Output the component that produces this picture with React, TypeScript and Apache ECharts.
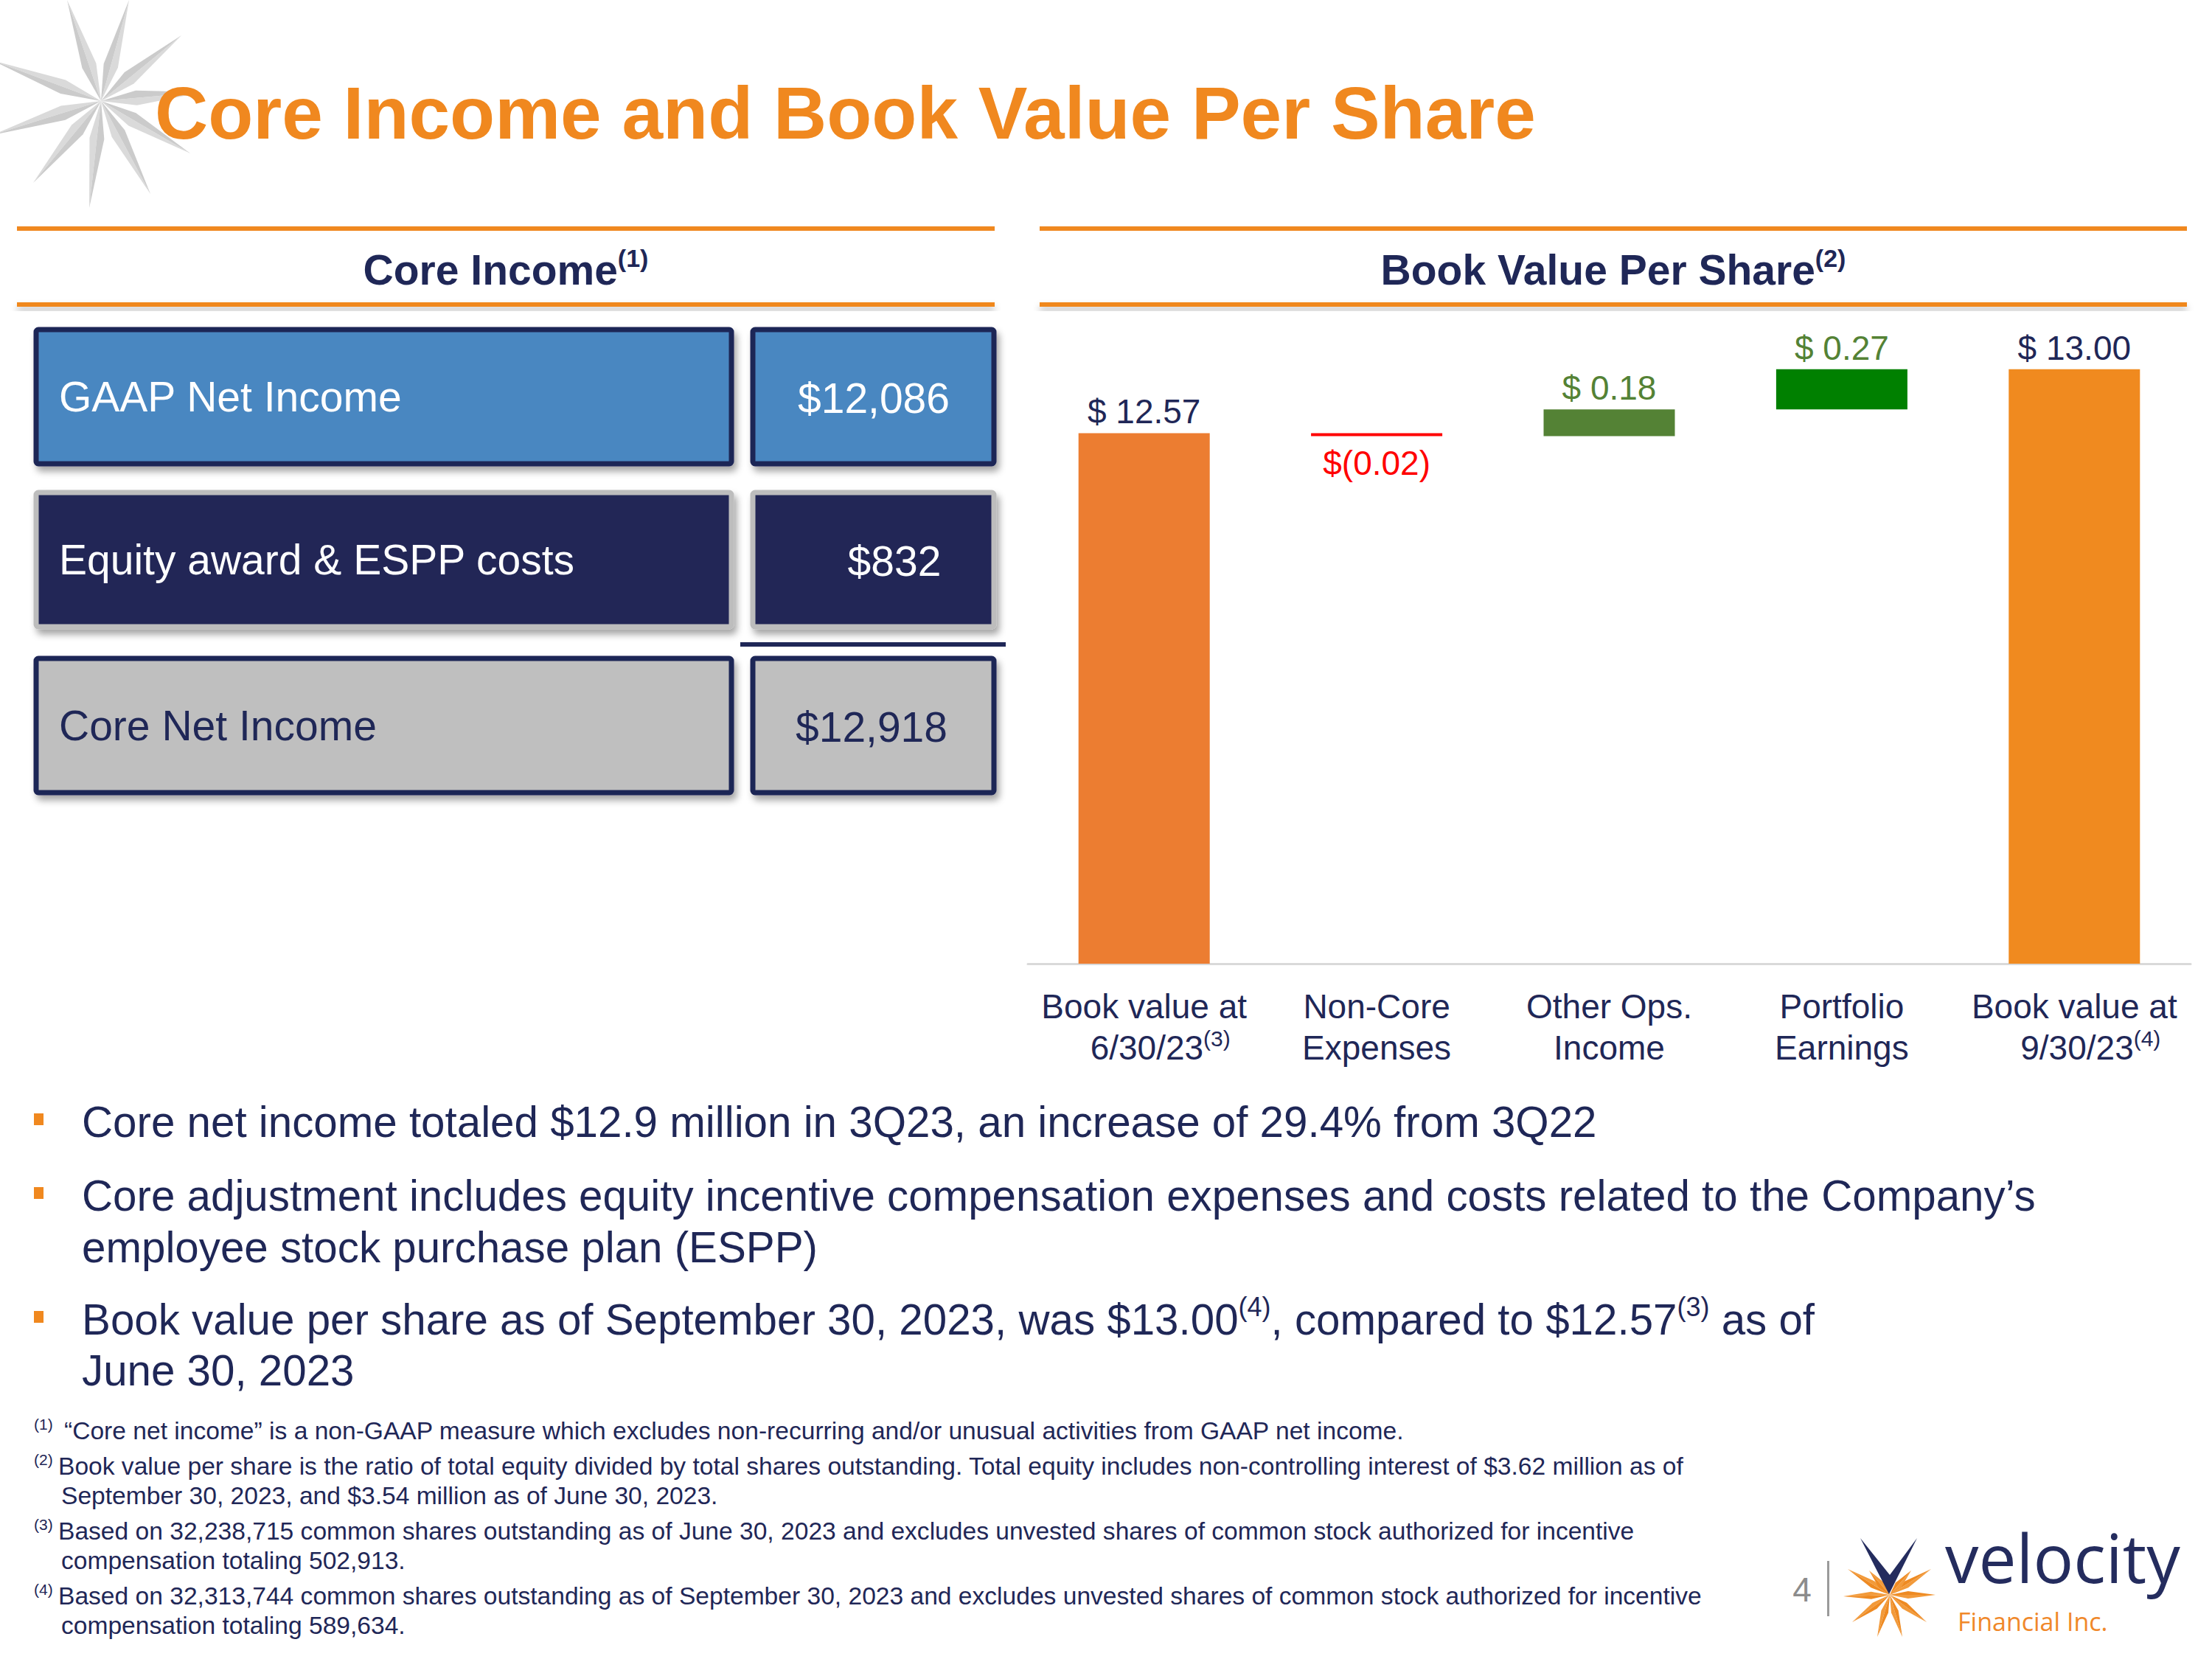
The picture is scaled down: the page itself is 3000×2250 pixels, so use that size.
import React, { useEffect, useRef } from 'react';
import * as echarts from 'echarts';

// ---------- data ----------
const categories = ['Book value at\n6/30/23', 'Non-Core\nExpenses', 'Other Ops.\nIncome', 'Portfolio\nEarnings', 'Book value at\n9/30/23'];
const categoryNotes = ['(3)', '', '', '', '(4)'];
const startValue = 12.57;
const changes = [-0.02, 0.18, 0.27];
const endValue = 13.0;

const coreLabels = ['GAAP Net Income', 'Equity award & ESPP costs', 'Core Net Income'];
const coreValues = ['$12,086', '$832', '$12,918'];

const bulletLines = [
  'Core net income totaled $12.9 million in 3Q23, an increase of 29.4% from 3Q22',
  'Core adjustment includes equity incentive compensation expenses and costs related to the Company’s',
  'employee stock purchase plan (ESPP)',
  'Book value per share as of September 30, 2023, was $13.00{s|(4)}, compared to $12.57{s|(3)} as of',
  'June 30, 2023',
];

const footnoteMarks = ['(1)', '(2)', '(3)', '(4)'];
const footnoteLines = [
  '“Core net income” is a non-GAAP measure which excludes non-recurring and/or unusual activities from GAAP net income.',
  'Book value per share is the ratio of total equity divided by total shares outstanding. Total equity includes non-controlling interest of $3.62 million as of',
  'September 30, 2023, and $3.54 million as of June 30, 2023.',
  'Based on 32,238,715 common shares outstanding as of June 30, 2023 and excludes unvested shares of common stock authorized for incentive',
  'compensation totaling 502,913.',
  'Based on 32,313,744 common shares outstanding as of September 30, 2023 and excludes unvested shares of common stock authorized for incentive',
  'compensation totaling 589,634.',
];

// ---------- styles ----------
const NAVY = '#1F2757';
const ORANGE = '#F0881F';
const FONT = '"Liberation Sans", Arial, Helvetica, sans-serif';
const barColors = ['#EC7D31', '#FF0000', '#548235', '#008000', '#F08A1F'];
const labelColors = [NAVY, '#FF0000', '#548235', '#548235', NAVY];

function fmt(v: number) {
  return v < 0 ? `$(${Math.abs(v).toFixed(2)})` : `$ ${v.toFixed(2)}`;
}

function buildWaterfall() {
  const signed = [startValue, ...changes, endValue];
  const base: any[] = ['-'];
  const heights: number[] = [startValue];
  let running = startValue;
  changes.forEach((c) => {
    if (c < 0) {
      base.push(running + c);
      heights.push(-c);
    } else {
      base.push(running);
      heights.push(c);
    }
    running += c;
  });
  base.push('-');
  heights.push(endValue);
  const delta = heights.map((h, i) => ({
    value: h,
    itemStyle: { color: barColors[i] },
    label: {
      show: true,
      position: signed[i] < 0 ? 'bottom' : 'top',
      distance: signed[i] < 0 ? 14 : 6,
      color: labelColors[i],
      fontSize: 46,
      fontFamily: FONT,
      formatter: fmt(signed[i]),
    },
  }));
  return { base, delta };
}

function ray(cx: number, cy: number, tx: number, ty: number, w: number, frac: number, a: string, b: string, z = 1) {
  const dx = tx - cx;
  const dy = ty - cy;
  const L = Math.sqrt(dx * dx + dy * dy);
  const ux = dx / L;
  const uy = dy / L;
  const nx = -uy;
  const ny = ux;
  const mx = cx + ux * L * frac;
  const my = cy + uy * L * frac;
  return [
    { type: 'polygon', z, shape: { points: [[cx, cy], [mx + nx * w, my + ny * w], [tx, ty]] }, style: { fill: a } },
    { type: 'polygon', z, shape: { points: [[cx, cy], [mx - nx * w, my - ny * w], [tx, ty]] }, style: { fill: b } },
  ];
}

function buildGraphics() {
  const g: any[] = [];
  // grey star, top-left
  const sc = [137, 137];
  const greyTips = [[91, 0], [175, 0], [246, 48], [274, 125], [258, 208], [204, 263], [121, 282], [45, 248], [-10, 183], [-10, 82]];
  greyTips.forEach((t) => g.push(...ray(sc[0], sc[1], t[0], t[1], 10, 0.35, '#DADADA', '#CBCBCB', 1)));

  // title
  g.push({ type: 'text', x: 210, y: 153, z: 5, style: { text: 'Core Income and Book Value Per Share', fill: ORANGE, fontSize: 100, fontWeight: 'bold', fontFamily: FONT, align: 'left', verticalAlign: 'middle' } });

  // headings and orange rules
  const panels = [
    { x0: 23, x1: 1349, title: '{b|Core Income}{s|(1)}' },
    { x0: 1410, x1: 2966, title: '{b|Book Value Per Share}{s|(2)}' },
  ];
  panels.forEach((p) => {
    g.push({ type: 'rect', shape: { x: p.x0, y: 307, width: p.x1 - p.x0, height: 6 }, style: { fill: ORANGE } });
    g.push({ type: 'rect', shape: { x: p.x0, y: 410, width: p.x1 - p.x0, height: 6 }, style: { fill: ORANGE, shadowBlur: 10, shadowOffsetY: 6, shadowColor: 'rgba(0,0,0,0.28)' } });
    g.push({
      type: 'text', x: (p.x0 + p.x1) / 2, y: 366,
      style: {
        text: p.title, align: 'center', verticalAlign: 'middle', fill: NAVY, fontFamily: FONT, fontSize: 57, fontWeight: 'bold',
        rich: {
          b: { fontSize: 57, fontWeight: 'bold', fill: NAVY, fontFamily: FONT, lineHeight: 66 },
          s: { fontSize: 34, fontWeight: 'bold', fill: NAVY, fontFamily: FONT, lineHeight: 36, verticalAlign: 'top' },
        },
      },
    });
  });

  // core income boxes
  const rows = [
    { y: 447, h: 182, fill: '#4A87C1', stroke: NAVY, text: '#FFFFFF', vx: 1185 },
    { y: 668, h: 182, fill: '#212857', stroke: '#BDBDBD', text: '#FFFFFF', vx: 1213 },
    { y: 893, h: 182, fill: '#BFBFBF', stroke: NAVY, text: NAVY, vx: 1182 },
  ];
  rows.forEach((r, i) => {
    const shadow = { shadowBlur: 10, shadowOffsetX: 4, shadowOffsetY: 7, shadowColor: 'rgba(0,0,0,0.35)' };
    g.push({ type: 'rect', shape: { x: 49, y: r.y, width: 943, height: r.h, r: 3 }, style: { fill: r.fill, stroke: r.stroke, lineWidth: 7, ...shadow } });
    g.push({ type: 'rect', shape: { x: 1021, y: r.y, width: 327, height: r.h, r: 3 }, style: { fill: r.fill, stroke: r.stroke, lineWidth: 7, ...shadow } });
    g.push({ type: 'text', x: 80, y: r.y + r.h / 2, style: { text: coreLabels[i], fill: r.text, fontSize: 57, fontFamily: FONT, align: 'left', verticalAlign: 'middle' } });
    g.push({ type: 'text', x: r.vx, y: r.y + r.h / 2 + 2, style: { text: coreValues[i], fill: r.text, fontSize: 57, fontFamily: FONT, align: 'center', verticalAlign: 'middle' } });
  });
  // total separator
  g.push({ type: 'rect', shape: { x: 1004, y: 871, width: 360, height: 6 }, style: { fill: NAVY } });

  // bullets
  const bulletY = [1521, 1621, 1691, 1789, 1858];
  const bulletStart = [true, true, false, true, false];
  bulletLines.forEach((t, i) => {
    if (bulletStart[i]) {
      g.push({ type: 'rect', shape: { x: 46, y: bulletY[i] - 11, width: 13, height: 16 }, style: { fill: ORANGE } });
    }
    g.push({
      type: 'text', x: 111, y: bulletY[i],
      style: {
        text: t, fill: NAVY, fontSize: 58.3, fontFamily: FONT, align: 'left', verticalAlign: 'middle', lineHeight: 70,
        rich: { s: { fontSize: 36, fill: NAVY, fontFamily: FONT, lineHeight: 38, verticalAlign: 'top' } },
      },
    });
  });

  // footnotes
  const fnY = [1940, 1988, 2028, 2076, 2116, 2164, 2204];
  const fnX = [87, 79, 83, 79, 83, 79, 83];
  const fnMarkIdx = [0, 1, -1, 2, -1, 3, -1];
  footnoteLines.forEach((t, i) => {
    if (fnMarkIdx[i] >= 0) {
      g.push({ type: 'text', x: 46, y: fnY[i] - 9, style: { text: footnoteMarks[fnMarkIdx[i]], fill: NAVY, fontSize: 21, fontFamily: FONT, align: 'left', verticalAlign: 'middle' } });
    }
    g.push({ type: 'text', x: fnX[i], y: fnY[i], style: { text: t, fill: NAVY, fontSize: 33.6, fontFamily: FONT, align: 'left', verticalAlign: 'middle' } });
  });

  // page number and logo
  g.push({ type: 'text', x: 2444, y: 2156, style: { text: '4', fill: '#8C8C8C', fontSize: 46, fontFamily: FONT, align: 'center', verticalAlign: 'middle' } });
  g.push({ type: 'rect', shape: { x: 2478, y: 2117, width: 3, height: 75 }, style: { fill: '#9A9A9A' } });
  const oc = [2563, 2163];
  const orangeTips = [[2500, 2165], [2625, 2163], [2506, 2128], [2619, 2128], [2512, 2200], [2613, 2200], [2546, 2220], [2580, 2220], [2535, 2130], [2592, 2130]];
  orangeTips.forEach((t) => g.push(...ray(oc[0], oc[1], t[0], t[1], 5, 0.4, '#F29A3A', '#EE8A22', 2)));
  g.push({ type: 'polygon', z: 3, shape: { points: [[2523, 2086], [2562, 2162], [2600, 2086], [2563, 2136]] }, style: { fill: '#242C5E' } });
  g.push({ type: 'text', x: 2638, y: 2112, style: { text: 'velocity', fill: '#242C5E', fontSize: 91, lineHeight: 70, fontFamily: '"Open Sans", "Noto Sans", sans-serif', align: 'left', verticalAlign: 'middle' } });
  g.push({ type: 'text', x: 2655, y: 2199, style: { text: 'Financial Inc.', fill: '#F0882A', fontSize: 34, lineHeight: 38, fontFamily: '"Open Sans", "Noto Sans", sans-serif', align: 'left', verticalAlign: 'middle' } });
  return g;
}

export default function App() {
  const ref = useRef<HTMLDivElement>(null);
  useEffect(() => {
    if (!ref.current) return;
    const chart = echarts.init(ref.current, undefined, { renderer: 'svg' });
    const { base, delta } = buildWaterfall();
    const option: any = {
      animation: false,
      backgroundColor: '#FFFFFF',
      grid: { left: 1394, right: 29, top: 400, bottom: 943, containLabel: false },
      xAxis: {
        type: 'category',
        data: categories,
        axisLine: { show: true, lineStyle: { color: '#D9D9D9', width: 3 } },
        axisTick: { show: false },
        splitLine: { show: false },
        axisLabel: {
          interval: 0,
          margin: 30,
          fontSize: 46,
          lineHeight: 56,
          color: NAVY,
          fontFamily: FONT,
          formatter: (v: string, i: number) => {
            if (!categoryNotes[i]) return v;
            const parts = v.split('\n');
            const last = parts.pop();
            return [...parts, `{pad|}${last}{sup|${categoryNotes[i]}}`].join('\n');
          },
          rich: {
            pad: { width: 44, fontSize: 30 },
            sup: { fontSize: 30, lineHeight: 32, verticalAlign: 'top', color: NAVY, fontFamily: FONT },
          },
        },
      },
      yAxis: { type: 'value', min: 9, max: 13.5, show: false, splitLine: { show: false } },
      series: [
        { type: 'bar', stack: 'wf', silent: true, barWidth: 178, itemStyle: { color: 'rgba(0,0,0,0)' }, data: base },
        { type: 'bar', stack: 'wf', barWidth: 178, data: delta },
      ],
      graphic: buildGraphics(),
    };
    chart.setOption(option);
    return () => chart.dispose();
  }, []);
  return <div ref={ref} style={{ position: 'absolute', left: 0, top: 0, width: 3000, height: 2250 }} />;
}
